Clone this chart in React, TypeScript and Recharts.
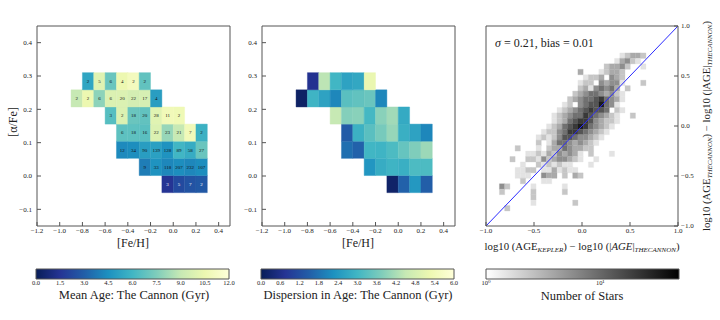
import React from "react";
import { ScatterChart, Scatter, XAxis, YAxis, ReferenceArea, ReferenceLine } from "recharts";

const SERIF = '"Liberation Serif", "DejaVu Serif", serif';
const AXIS = "#555";
const INK = "#222";

// ---- [Fe/H] / [alpha/Fe] maps (left and middle panels) ----
const fehTicks = [-1.2, -1.0, -0.8, -0.6, -0.4, -0.2, 0.0, 0.2, 0.4];
const alphaTicks = [-0.1, 0.0, 0.1, 0.2, 0.3, 0.4];
const fehBinStart = -0.9;
const fehBinWidth = 0.1;
const alphaBinEdges = [-0.05, 0.0014, 0.0529, 0.1043, 0.1557, 0.2071, 0.2586, 0.31];

// rows from the lowest [alpha/Fe] bin upwards; first [Fe/H] bin index of each row
const rowFirstBin = [8, 6, 4, 4, 3, 0, 1];
const starCounts = [
  [3, 5, 7, 2],
  [9, 33, 118, 207, 232, 107],
  [12, 34, 90, 139, 128, 89, 58, 27],
  [6, 18, 16, 22, 23, 21, 7, 2],
  [3, 2, 18, 20, 28, 11, 2],
  [2, 2, 6, 6, 20, 22, 17, 4],
  [2, 5, 6, 4, 2, 2],
];
const meanAge = [
  [1.5, 2.3, 2.6, 2.8],
  [3.9, 4.6, 4.2, 4.4, 4.2, 4.4],
  [4.3, 4.4, 5.0, 5.1, 4.6, 6.0, 5.6, 7.0],
  [6.7, 6.7, 6.6, 9.8, 8.0, 9.0, 10.8, 5.8],
  [6.5, 9.8, 7.0, 6.8, 10.0, 10.8, 10.7],
  [9.0, 10.5, 7.8, 9.8, 9.8, 9.5, 9.6, 5.0],
  [5.3, 10.0, 7.0, 10.5, 11.0, 6.8],
];
const ageSpread = [
  [0.2, 1.55, 2.4, 1.5],
  [2.35, 2.8, 2.95, 2.85, 3.15, 3.15],
  [1.75, 1.55, 3.0, 2.95, 3.15, 3.45, 3.75, 4.05],
  [1.45, 2.9, 3.3, 3.65, 4.0, 2.85, 2.6, 2.1],
  [4.5, 3.8, 3.85, 3.05, 3.85, 4.1, 2.75],
  [0.15, 2.95, 2.6, 2.1, 3.3, 3.4, 3.5, 2.1],
  [0.7, 4.4, 3.0, 2.6, 2.7, 5.2],
];

// ---- 2d histogram (right panel) ----
const ratioTicks = [-1, -0.5, 0, 0.5, 1];
const histX0 = -0.86;
const histY0 = -0.85;
const histBin = 0.0545;
const histTopRow = 28;
// rows from the top down: first column and grey level per cell (1 light .. 9 black, "." empty)
const histFirstCol = [23, 22, 20, 15, 16, 15, 15, 14, 13, 12, 11, 10, 10, 9, 8, 7, 7, 3, 5, 2, 4, 3, 3, 4, 0, 0, 6, 6, 1];
const histShade = [
  "12332",
  "13421",
  "23342..1",
  "3...12332",
  "1223.432",
  "122.43441...2",
  "23145453.2",
  "2345543421",
  "23455675431",
  "12.45668541",
  "1234567665.21",
  "1234557654321..2",
  "1235677643221",
  "1235678754321",
  "1224577654321",
  "1212466544321",
  "2.1355434321",
  "2...1.233543322",
  "11213243431.2...1",
  "2..22142344321..1",
  "1..2121211...1",
  "1122.1131211",
  "111..433.2.32",
  "2...11",
  "42....1.....1",
  "2.....2.....2",
  "2",
  "1.......2",
  "2",
];

// ---- colour bars ----
const ageTicks = [0, 1.5, 3, 4.5, 6, 7.5, 9, 10.5, 12];
const spreadTicks = [0, 0.6, 1.2, 1.8, 2.4, 3.0, 3.6, 4.2, 4.8, 5.4, 6.0];
const starLogTicks = [0, 1];
const starLogMax = 1.69;

const ylgnbuStops = ["#081d58", "#253494", "#225ea8", "#1d91c0", "#41b6c4", "#7fcdbb", "#c7e9b4", "#edf8b1", "#ffffd9"];

const hexRgb = (h: string) => [1, 3, 5].map((i) => parseInt(h.slice(i, i + 2), 16));

function ylgnbu(t: number) {
  const n = ylgnbuStops.length - 1;
  const s = Math.min(1, Math.max(0, t)) * n;
  const i = Math.min(Math.floor(s), n - 1);
  const f = s - i;
  const a = hexRgb(ylgnbuStops[i]);
  const b = hexRgb(ylgnbuStops[i + 1]);
  const c = a.map((v, k) => Math.round(v + (b[k] - v) * f));
  return `rgb(${c[0]},${c[1]},${c[2]})`;
}

function grey(level: number) {
  const g = Math.round(255 * (1 - level / 9));
  return `rgb(${g},${g},${g})`;
}

const fmt1 = (v: number) => v.toFixed(1).replace("-", "\u2212");
const fmtPow = (v: number) => (v === 0 ? "10\u2070" : "10\u00b9");
const tickFont = { fontSize: 7, fontFamily: SERIF, fill: INK };
const barTickFont = { fontSize: 6.5, fontFamily: SERIF, fill: INK };
const Empty = () => <g />;

type Cell = { x1: number; x2: number; y1: number; y2: number; n: number; v: number };

function mapCells(values: number[][]): Cell[] {
  const out: Cell[] = [];
  starCounts.forEach((row, b) => {
    row.forEach((n, j) => {
      const x1 = fehBinStart + (rowFirstBin[b] + j) * fehBinWidth;
      out.push({ x1, x2: x1 + fehBinWidth, y1: alphaBinEdges[b], y2: alphaBinEdges[b + 1], n, v: values[b][j] });
    });
  });
  return out;
}

function MapPanel({ left, values, vmax, showCounts }: { left: number; values: number[][]; vmax: number; showCounts: boolean }) {
  const cells = mapCells(values);
  const centers = cells.map((c) => ({ x: (c.x1 + c.x2) / 2, y: (c.y1 + c.y2) / 2 }));
  return (
    <div style={{ position: "absolute", left, top: 0 }}>
      <ScatterChart width={240} height={250} margin={{ top: 25, right: 9, bottom: 0, left: 0 }}>
        <XAxis dataKey="x" type="number" domain={[-1.2, 0.5]} ticks={fehTicks} interval={0} allowDataOverflow
          height={24} tickSize={-4} tickMargin={6} stroke={AXIS} tick={tickFont} tickFormatter={fmt1} />
        <XAxis xAxisId="top" orientation="top" type="number" domain={[-1.2, 0.5]} ticks={fehTicks} interval={0}
          allowDataOverflow height={1} tickSize={-4} tick={false} stroke={AXIS} />
        <YAxis dataKey="y" type="number" domain={[-0.15, 0.45]} ticks={alphaTicks} interval={0} allowDataOverflow
          width={37} tickSize={-4} tickMargin={9} stroke={AXIS} tick={tickFont} tickFormatter={fmt1} />
        <YAxis yAxisId="right" orientation="right" type="number" domain={[-0.15, 0.45]} ticks={alphaTicks} interval={0}
          allowDataOverflow width={1} tickSize={-4} tick={false} stroke={AXIS} />
        {cells.map((c, i) => {
          const col = ylgnbu(c.v / vmax);
          return (
            <ReferenceArea key={i} x1={c.x1} x2={c.x2} y1={c.y1} y2={c.y2} fill={col} fillOpacity={1}
              stroke={col} strokeWidth={0.4}
              label={showCounts ? { value: String(c.n), position: "center", fontSize: 5, fontFamily: SERIF, fill: c.v < 3 ? "#fff" : "#111" } : undefined} />
          );
        })}
        <Scatter data={centers} shape={Empty} isAnimationActive={false} />
      </ScatterChart>
    </div>
  );
}

function RatioPanel() {
  const cells: { x1: number; x2: number; y1: number; y2: number; level: number }[] = [];
  histShade.forEach((row, k) => {
    const r = histTopRow - k;
    row.split("").forEach((ch, j) => {
      if (ch === ".") return;
      const x1 = histX0 + (histFirstCol[k] + j) * histBin;
      const y1 = histY0 + r * histBin;
      cells.push({ x1, x2: x1 + histBin, y1, y2: y1 + histBin, level: Number(ch) });
    });
  });
  const centers = cells.map((c) => ({ x: (c.x1 + c.x2) / 2, y: (c.y1 + c.y2) / 2 }));
  return (
    <div style={{ position: "absolute", left: 440, top: 0 }}>
      <ScatterChart width={280} height={250} margin={{ top: 25, right: 0, bottom: 0, left: 45 }}>
        <XAxis dataKey="x" type="number" domain={[-1, 1]} ticks={ratioTicks} interval={0} allowDataOverflow
          height={24} tickSize={-4} tickMargin={6} stroke={AXIS} tick={tickFont} tickFormatter={fmt1} />
        <XAxis xAxisId="top" orientation="top" type="number" domain={[-1, 1]} ticks={ratioTicks} interval={0}
          allowDataOverflow height={1} tickSize={-4} tick={false} stroke={AXIS} />
        <YAxis yAxisId="left" orientation="left" type="number" domain={[-1, 1]} ticks={ratioTicks} interval={0}
          allowDataOverflow width={1} tickSize={-4} tick={false} stroke={AXIS} />
        <YAxis dataKey="y" orientation="right" type="number" domain={[-1, 1]} ticks={ratioTicks} interval={0}
          allowDataOverflow width={42} tickSize={-4} tickMargin={7} stroke={AXIS} tick={tickFont} tickFormatter={fmt1} />
        {cells.map((c, i) => {
          const col = grey(c.level);
          return (
            <ReferenceArea key={i} x1={c.x1} x2={c.x2} y1={c.y1} y2={c.y2} fill={col} fillOpacity={1}
              stroke={col} strokeWidth={0.3} />
          );
        })}
        <ReferenceLine segment={[{ x: -1, y: -1 }, { x: 1, y: 1 }]} stroke="#2a2aff" strokeWidth={1} />
        <Scatter data={centers} shape={Empty} isAnimationActive={false} />
      </ScatterChart>
    </div>
  );
}

function ColorBar({ left, width, padLeft, domain, ticks, fmt, gradient }: {
  left: number; width: number; padLeft: number; domain: [number, number]; ticks: number[];
  fmt: (v: number) => string; gradient: string;
}) {
  return (
    <div style={{ position: "absolute", left, top: 260 }}>
      <ScatterChart width={width} height={30} margin={{ top: 9, right: width - padLeft - 193, bottom: 0, left: padLeft }}>
        <XAxis dataKey="x" type="number" domain={domain} ticks={ticks} interval={0} allowDataOverflow height={11}
          tickSize={0} tickMargin={1} axisLine={false} tickLine={false} tick={barTickFont} tickFormatter={fmt} />
        <YAxis dataKey="y" type="number" domain={[0, 1]} hide allowDataOverflow />
        <ReferenceArea x1={domain[0]} x2={domain[1]} y1={0} y2={1} fill={`url(#${gradient})`} fillOpacity={1}
          stroke={AXIS} strokeWidth={1} />
        <Scatter data={ticks.map((t) => ({ x: t, y: 0.5 }))} shape={Empty} isAnimationActive={false} />
      </ScatterChart>
    </div>
  );
}

export default function App() {
  const sub = { fontSize: 6.5, fontStyle: "italic" as const };
  return (
    <div style={{ position: "absolute", left: 0, top: 0, width: 720, height: 320, background: "#fff", fontFamily: SERIF }}>
      <svg width={0} height={0} style={{ position: "absolute" }}>
        <defs>
          <linearGradient id="cbYlGnBu" x1="0" y1="0" x2="1" y2="0">
            {ylgnbuStops.map((c, i) => (
              <stop key={i} offset={i / (ylgnbuStops.length - 1)} stopColor={c} />
            ))}
          </linearGradient>
          <linearGradient id="cbGrey" x1="0" y1="0" x2="1" y2="0">
            <stop offset={0} stopColor="#ffffff" />
            <stop offset={1} stopColor="#000000" />
          </linearGradient>
        </defs>
      </svg>

      <MapPanel left={0} values={meanAge} vmax={12} showCounts />
      <MapPanel left={225} values={ageSpread} vmax={6} showCounts={false} />
      <RatioPanel />

      <ColorBar left={0} width={240} padLeft={36} domain={[0, 12]} ticks={ageTicks} fmt={fmt1} gradient="cbYlGnBu" />
      <ColorBar left={225} width={240} padLeft={36} domain={[0, 6]} ticks={spreadTicks} fmt={fmt1} gradient="cbYlGnBu" />
      <ColorBar left={440} width={280} padLeft={46} domain={[0, starLogMax]} ticks={starLogTicks} fmt={fmtPow} gradient="cbGrey" />

      <svg width={720} height={320} style={{ position: "absolute", left: 0, top: 0, pointerEvents: "none" }}
        fontFamily={SERIF} fill={INK}>
        <text transform="translate(17,122) rotate(-90)" textAnchor="middle" fontSize={12}>[α/Fe]</text>
        <text x={133} y={247} textAnchor="middle" fontSize={12}>[Fe/H]</text>
        <text x={358} y={247} textAnchor="middle" fontSize={12}>[Fe/H]</text>
        <text x={495} y={47} fontSize={12}>
          <tspan fontStyle="italic">σ</tspan> = 0.21, bias = 0.01
        </text>
        <text x={582} y={250} textAnchor="middle" fontSize={10} textLength={195} lengthAdjust="spacingAndGlyphs">
          log10 (AGE<tspan dy={2} {...sub}>KEPLER</tspan>
          <tspan dy={-2}>) − log10 (|</tspan>
          <tspan fontStyle="italic">AGE</tspan>|<tspan dy={2} {...sub}>THECANNON</tspan>
          <tspan dy={-2}>)</tspan>
        </text>
        <text transform="translate(710,126) rotate(-90)" textAnchor="middle" fontSize={10} textLength={210}
          lengthAdjust="spacingAndGlyphs">
          log10 (AGE<tspan dy={2} {...sub}>THECANNON</tspan>
          <tspan dy={-2}>) − log10 (|AGE|</tspan>
          <tspan dy={2} {...sub}>THECANNON</tspan>
          <tspan dy={-2}>)</tspan>
        </text>
        <text x={134} y={299} textAnchor="middle" fontSize={12.5}>Mean Age: The Cannon (Gyr)</text>
        <text x={358} y={299} textAnchor="middle" fontSize={12.5}>Dispersion in Age: The Cannon (Gyr)</text>
        <text x={582} y={300} textAnchor="middle" fontSize={12.5}>Number of Stars</text>
      </svg>
    </div>
  );
}
